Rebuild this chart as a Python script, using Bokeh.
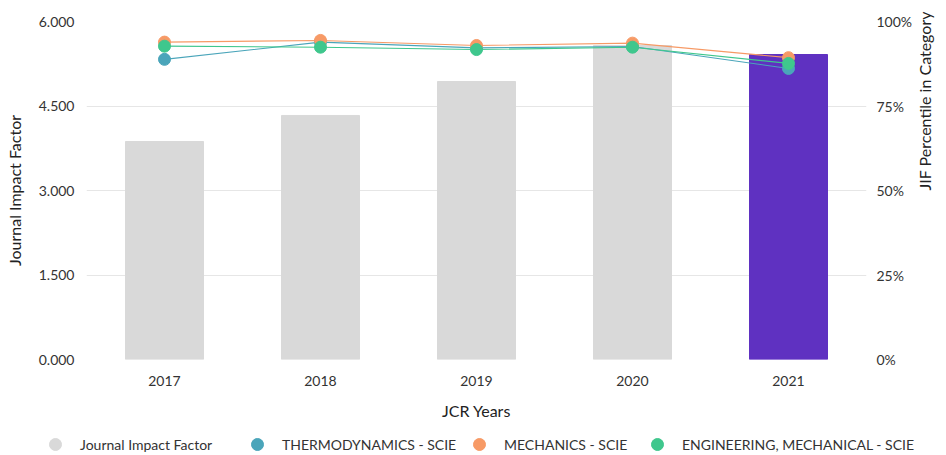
import math
from bokeh.plotting import figure
from bokeh.models import (ColumnDataSource, Range1d, LinearAxis, FixedTicker,
                          NumeralTickFormatter, PrintfTickFormatter, Legend, LegendItem)
from bokeh.embed import file_html
from bokeh.resources import INLINE

years = ["2017", "2018", "2019", "2020", "2021"]
jif = [3.870, 4.332, 4.935, 5.574, 5.414]
thermo = [88.8, 93.9, 92.2, 92.6, 86.1]
mechanics = [93.9, 94.4, 92.9, 93.6, 89.3]
engineering = [92.7, 92.4, 91.7, 92.4, 87.6]
legend_labels = ["Journal Impact Factor", "THERMODYNAMICS - SCIE",
                 "MECHANICS - SCIE", "ENGINEERING, MECHANICAL - SCIE"]

FONT = "Lato"
TXT = "#333333"
GRAY = "#d9d9d9"
PURPLE = "#5f31c1"
C_THERMO = "#4aa5ba"
C_MECH = "#f79a66"
C_ENG = "#3fc78d"

bar_colors = [GRAY] * (len(years) - 1) + [PURPLE]

p = figure(x_range=years, y_range=Range1d(0, 6), width=946, height=430,
           output_backend="svg", toolbar_location=None,
           min_border_left=86, min_border_right=80, min_border_top=21, min_border_bottom=71)
p.extra_y_ranges = {"pct": Range1d(0, 100)}
p.outline_line_color = None

src = ColumnDataSource(dict(years=years, jif=jif, color=bar_colors))
p.vbar(x="years", top="jif", width=0.5, color="color", source=src)

lsrc = ColumnDataSource(dict(years=years, thermo=thermo, mech=mechanics, eng=engineering))
series = (("thermo", C_THERMO), ("mech", C_MECH), ("eng", C_ENG))
for key, col in series:
    p.line(x="years", y=key, source=lsrc, y_range_name="pct", line_color=col, line_width=1.1)
for key, col in series:
    p.scatter(x="years", y=key, source=lsrc, y_range_name="pct",
              size=12, fill_color=col, line_color=col)

p.yaxis.ticker = FixedTicker(ticks=[0, 1.5, 3, 4.5, 6])
p.yaxis.formatter = NumeralTickFormatter(format="0.000")
p.yaxis.axis_label = "Journal Impact Factor"

right = LinearAxis(y_range_name="pct", ticker=FixedTicker(ticks=[0, 25, 50, 75, 100]),
                   formatter=PrintfTickFormatter(format="%d%%"),
                   axis_label="JIF Percentile in Category")
p.add_layout(right, "right")
p.xaxis.axis_label = "JCR Years"

for ax in (p.xaxis[0], p.yaxis[0], right):
    ax.axis_line_color = None
    ax.major_tick_line_color = None
    ax.minor_tick_line_color = None
    ax.major_tick_out = 0
    ax.major_tick_in = 0
    ax.minor_tick_out = 0
    ax.major_label_text_font = FONT
    ax.major_label_text_font_size = "14px"
    ax.major_label_text_color = TXT
    ax.axis_label_text_font = FONT
    ax.axis_label_text_font_size = "16px"
    ax.axis_label_text_font_style = "normal"
    ax.axis_label_text_color = "#222222"

p.yaxis[0].major_label_standoff = 12
p.yaxis[0].axis_label_standoff = 12
right.major_label_standoff = 10
right.axis_label_standoff = 9
right.axis_label_orientation = math.pi / 2
p.xaxis[0].major_label_standoff = 16
p.xaxis[0].axis_label_standoff = 12

p.xgrid.grid_line_color = None
p.ygrid.grid_line_color = "#e6e6e6"
p.ygrid.grid_line_width = 1

# legend strip (separate root, so it is not frame-aligned with the chart)
lf = figure(width=946, height=25, x_range=Range1d(0, 1), y_range=Range1d(0, 1),
            output_backend="svg", toolbar_location=None, min_border=0,
            min_border_left=0, min_border_right=0, min_border_top=0, min_border_bottom=0,
            x_axis_type=None, y_axis_type=None)
lf.outline_line_color = None
lf.xgrid.grid_line_color = None
lf.ygrid.grid_line_color = None
dsrc = ColumnDataSource(dict(x=[-10.0], y=[-10.0]))
offsets = [40, 242, 464, 642]
for label, col, vx in zip(legend_labels, [GRAY, C_THERMO, C_MECH, C_ENG], offsets):
    r = lf.scatter(x="x", y="y", source=dsrc, size=12, fill_color=col, line_color=col)
    lg = Legend(items=[LegendItem(label=label, renderers=[r])], location=(vx, -4),
                orientation="horizontal", glyph_width=30, glyph_height=30,
                label_standoff=10, padding=0, margin=0, spacing=0,
                background_fill_alpha=0, border_line_color=None,
                label_text_font=FONT, label_text_font_size="14px", label_text_color=TXT)
    lf.add_layout(lg, "center")

open("out.html", "w").write(file_html([p, lf], INLINE))
